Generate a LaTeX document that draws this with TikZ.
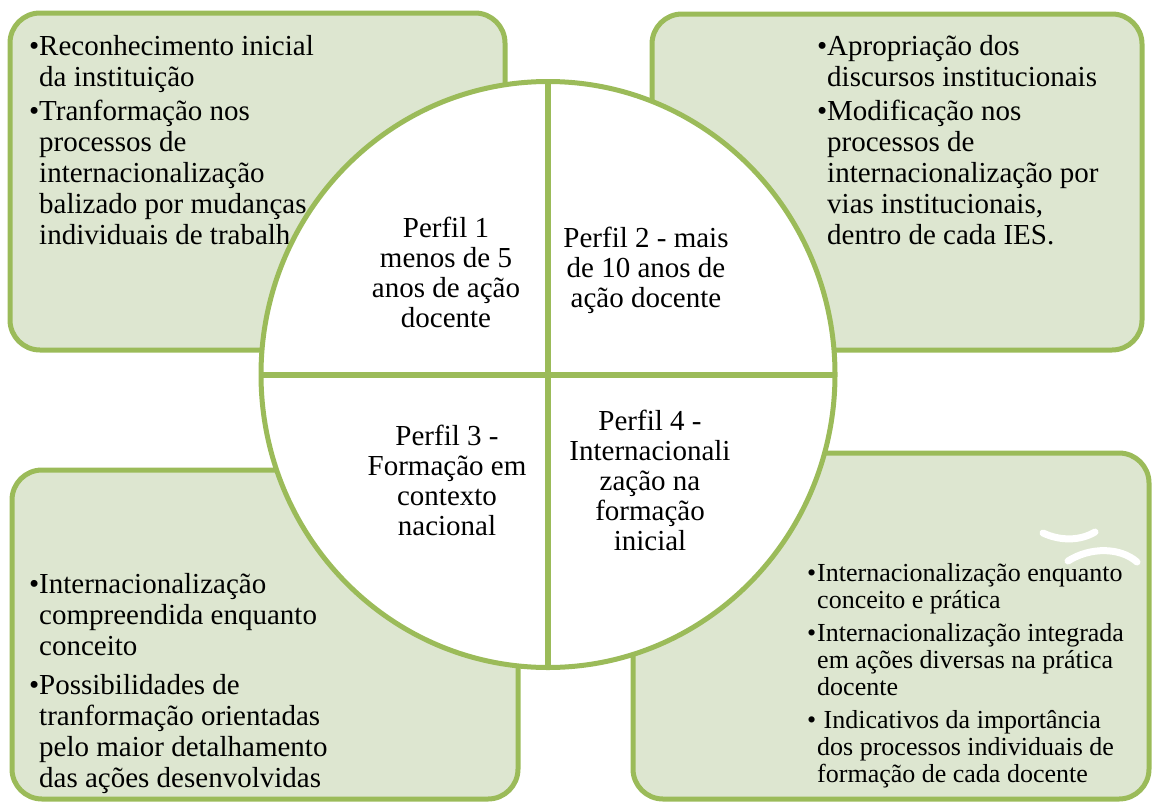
\documentclass[tikz,border=0pt]{standalone}
\usepackage{fontspec}
\setmainfont{Liberation Serif}
\definecolor{matrixGreen}{RGB}{155,187,89}
\definecolor{matrixFill}{RGB}{221,230,208}
\newcommand{\bul}{\makebox[10pt][l]{\textbullet}}
\newcommand{\ind}{\hspace*{10pt}}

\begin{document}
\begin{tikzpicture}
[x=1pt,y=-1pt,
  boxDecorate/.style={draw=matrixGreen,fill=matrixFill,line width=5pt,rounded corners=30pt},
  circleDecorate/.style={draw=matrixGreen,fill=white,line width=5pt},
  lineDecorate/.style={draw=matrixGreen,line width=6pt},
  markDecorate/.style={draw=white,line width=7pt,line cap=round},
  boxText/.style={anchor=north west,inner sep=0pt,align=left,font=\fontsize{29}{31}\selectfont},
  smallText/.style={boxText,font=\fontsize{26}{27}\selectfont},
  perfilText/.style={inner sep=0pt,align=center,font=\fontsize{29}{30}\selectfont}]
\useasboundingbox (0,0) rectangle (1155,803);
%% outer boxes
\foreach \xa/\ya/\xb/\yb in {
  10/13/505/350,
  652/14/1142/350,
  12/470/518/799,
  633/453/1149/799}
{
  \draw[boxDecorate] (\xa,\ya) rectangle (\xb,\yb);
}
%% box texts
\node (tlText) [boxText] at (29,35) {\bul Reconhecimento inicial\\
  \ind da instituição\\[3pt]
  \bul Tranformação nos\\
  \ind processos de\\
  \ind internacionalização\\
  \ind balizado por mudanças\\
  \ind individuais de trabalh};
\node (trText) [boxText] at (817,35) {\bul Apropriação dos\\
  \ind discursos institucionais\\[3pt]
  \bul Modificação nos\\
  \ind processos de\\
  \ind internacionalização por\\
  \ind vias institucionais,\\
  \ind dentro de cada IES.};
\node (blText) [boxText] at (29,573) {\bul Internacionalização\\
  \ind compreendida enquanto\\
  \ind conceito\\[8pt]
  \bul Possibilidades de\\
  \ind tranformação orientadas\\
  \ind pelo maior detalhamento\\
  \ind das ações desenvolvidas};
\node (brText) [smallText] at (807,563) {\bul Internacionalização enquanto\\
  \ind conceito e prática\\[6pt]
  \bul Internacionalização integrada\\
  \ind em ações diversas na prática\\
  \ind docente\\[6pt]
  \bul\ Indicativos da importância\\
  \ind dos processos individuais de\\
  \ind formação de cada docente};
%% white marks
\draw[markDecorate] (1043,533) .. controls (1060,541) and (1080,541) .. (1095,532);
\draw[markDecorate] (1068,561) .. controls (1090,547) and (1120,547) .. (1137,562);
%% circle and quarters
\coordinate (c) at (548,374.5);
\coordinate (cN) at (548,81.5);
\coordinate (cS) at (548,667.5);
\coordinate (cW) at (261,374.5);
\coordinate (cE) at (835,374.5);
\draw[circleDecorate] (c) ellipse [x radius=287pt,y radius=293pt];
\path (cN) edge[lineDecorate] (cS)
      (cW) edge[lineDecorate] (cE);
%% quarter texts
\node (perfil1) [perfilText] at (446,272) {Perfil 1\\menos de 5\\anos de ação\\docente};
\node (perfil2) [perfilText] at (646,270) {Perfil 2 - mais\\de 10 anos de\\ação docente};
\node (perfil3) [perfilText] at (447,480) {Perfil 3 -\\Formação em\\contexto\\nacional};
\node (perfil4) [perfilText] at (650,480) {Perfil 4 -\\Internacionali\\zação na\\formação\\inicial};
\end{tikzpicture}
\end{document}
